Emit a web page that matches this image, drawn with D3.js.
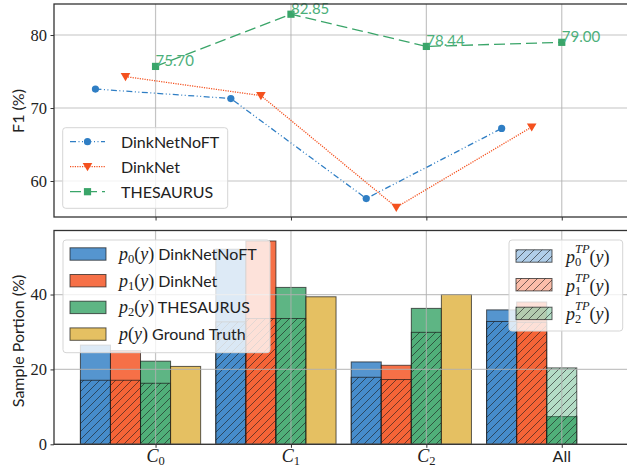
<!DOCTYPE html>
<html>
<head>
<meta charset="utf-8">
<script src="https://cdn.jsdelivr.net/npm/d3@7"></script>
<style>
    body { margin: 0; background: #fff; }
    svg { display: block; }
    .sans { font-family: "Lato", "Liberation Sans", sans-serif; }
    .serif { font-family: "Liberation Serif", "DejaVu Serif", serif; }
</style>
</head>
<body>
<script>
const categories = ["C0", "C1", "C2", "All"];

// F1 (%) per category, top panel
const f1NoFT = [72.6, 71.3, 57.6, 67.2];
const f1DinkNet = [74.3, 71.7, 56.4, 67.4];
const f1Thesaurus = [75.70, 82.85, 78.44, 79.00];

// Sample portion (%), bottom panel
const pNoFT = [26.5, 52.1, 22.0, 35.9];
const pDinkNet = [25.0, 54.3, 21.1, 38.0];
const pThesaurus = [22.2, 41.9, 36.3, 7.4];
const pTruth = [20.8, 39.4, 40.0];
const tpNoFT = [17.1, 32.7, 17.9, 32.8];
const tpDinkNet = [17.1, 33.6, 17.3, 32.6];
const tpThesaurus = [16.3, 33.6, 29.9, 20.4];

const topTicks = [60, 70, 80];
const bottomTicks = [0, 20, 40];

const blue = "#2f7ec4", orange = "#f4511e", green = "#3aa569", yellow = "#dfb23f";

const W = 627, H = 468;
const left = 54, right = 643;
const topPanel = { top: 4, bottom: 217 };
const botPanel = { top: 230.5, bottom: 444.3 };
const barW = 0.222;

const svg = d3.select("body").append("svg")
    .attr("width", W)
    .attr("height", H);

// hatch pattern
const defs = svg.append("defs");
defs.append("pattern")
    .attr("id", "hatch")
    .attr("patternUnits", "userSpaceOnUse")
    .attr("width", 8).attr("height", 8)
    .append("path")
    .attr("d", "M-2,2 l4,-4 M0,8 l8,-8 M6,10 l4,-4")
    .attr("stroke", "#1a1a1a")
    .attr("stroke-opacity", 0.75)
    .attr("stroke-width", 0.8);

// ----- Scales -----
const x = d3.scaleLinear().domain([-0.75, 3.6]).range([left, right]);
const yTop = d3.scaleLinear().domain([55.07, 84.25]).range([topPanel.bottom, topPanel.top]);
const yBot = d3.scaleLinear().domain([0, 57.1]).range([botPanel.bottom, botPanel.top]);
const idx = [0, 1, 2, 3];

function frame(g, panel) {
    g.append("rect")
        .attr("x", left).attr("y", panel.top)
        .attr("width", right - left).attr("height", panel.bottom - panel.top)
        .attr("fill", "none")
        .attr("stroke", "#333")
        .attr("stroke-width", 1.3);
}

function grid(g, y, ticks, panel) {
    const gg = g.append("g").attr("class", "grid");
    gg.selectAll("line.h").data(ticks).enter().append("line")
        .attr("x1", left).attr("x2", right)
        .attr("y1", d => y(d)).attr("y2", d => y(d));
    gg.selectAll("line.v").data(idx).enter().append("line")
        .attr("x1", d => x(d)).attr("x2", d => x(d))
        .attr("y1", panel.top).attr("y2", panel.bottom);
    gg.selectAll("line")
        .attr("stroke", "#b0b0b0")
        .attr("stroke-opacity", 0.75)
        .attr("stroke-width", 1.2);
}

function axes(g, y, ticks, panel) {
    const ax = g.append("g")
        .attr("transform", `translate(${left},0)`)
        .call(d3.axisLeft(y).tickValues(ticks).tickSize(3.5).tickPadding(3.5));
    ax.select(".domain").remove();
    ax.selectAll("text").attr("class", "serif").style("font-size", "16.5px").attr("fill", "#222");
    ax.selectAll("line").attr("stroke", "#333");
    const bx = g.append("g")
        .attr("transform", `translate(0,${panel.bottom})`)
        .call(d3.axisBottom(x).tickValues(idx).tickSize(3.5).tickFormat(""));
    bx.select(".domain").remove();
    bx.selectAll("line").attr("stroke", "#333");
}

// ----- Top panel: F1 lines -----
const topG = svg.append("g");
grid(topG, yTop, topTicks, topPanel);

const series = [
    { name: "DinkNetNoFT", vals: f1NoFT, color: blue, off: -2, dash: "6,2.5,1,2.5,1,2.5", marker: "circle" },
    { name: "DinkNet", vals: f1DinkNet, color: orange, off: -1, dash: "1.2,1.2", marker: "tri" },
    { name: "THESAURUS", vals: f1Thesaurus, color: green, off: 0, dash: "11,5", marker: "square" }
];

function marker(g, type, cx, cy, color) {
    if (type === "circle") {
        g.append("circle").attr("cx", cx).attr("cy", cy).attr("r", 3.6).attr("fill", color);
    } else if (type === "tri") {
        g.append("path").attr("d", `M${cx - 4.8},${cy - 3.6} L${cx + 4.8},${cy - 3.6} L${cx},${cy + 4.6} Z`).attr("fill", color);
    } else {
        g.append("rect").attr("x", cx - 3.6).attr("y", cy - 3.6).attr("width", 7.2).attr("height", 7.2).attr("fill", color);
    }
}

series.forEach(s => {
    const line = d3.line()
        .x((d, i) => x(i + s.off * barW))
        .y(d => yTop(d));
    topG.append("path")
        .datum(s.vals)
        .attr("d", line)
        .attr("fill", "none")
        .attr("stroke", s.color)
        .attr("stroke-width", 1.3)
        .attr("stroke-dasharray", s.dash);
    s.vals.forEach((v, i) => marker(topG, s.marker, x(i + s.off * barW), yTop(v), s.color));
});

// value labels for THESAURUS
topG.selectAll("text.val")
    .data(f1Thesaurus)
    .enter().append("text")
    .attr("class", "sans val")
    .attr("x", (d, i) => x(i))
    .attr("y", d => yTop(d))
    .attr("fill", "#4caf7a")
    .style("font-size", "15px")
    .text(d => d.toFixed(2));

axes(topG, yTop, topTicks, topPanel);
frame(topG, topPanel);

topG.append("text")
    .attr("class", "sans")
    .attr("transform", `translate(24,111) rotate(-90)`)
    .attr("text-anchor", "middle")
    .style("font-size", "16px")
    .attr("fill", "#222")
    .text("F1 (%)");

// legend
const leg1 = topG.append("g");
leg1.append("rect")
    .attr("x", 62.7).attr("y", 127.7).attr("width", 165).attr("height", 80.6).attr("rx", 3)
    .attr("fill", "#fff").attr("fill-opacity", 0.8)
    .attr("stroke", "#d5d5d5");
series.forEach((s, i) => {
    const cy = 141.7 + i * 25;
    leg1.append("line")
        .attr("x1", 70).attr("x2", 105).attr("y1", cy).attr("y2", cy)
        .attr("stroke", s.color).attr("stroke-width", 1.3).attr("stroke-dasharray", s.dash);
    marker(leg1, s.marker, 87.5, cy, s.color);
    leg1.append("text")
        .attr("class", "sans")
        .attr("x", 121).attr("y", cy + 6)
        .style("font-size", "16px")
        .attr("fill", "#222")
        .text(s.name);
});

// ----- Bottom panel: sample portion bars -----
const botG = svg.append("g");

const groups = [
    { p: pNoFT, tp: tpNoFT, color: blue, off: -2 },
    { p: pDinkNet, tp: tpDinkNet, color: orange, off: -1 },
    { p: pThesaurus, tp: tpThesaurus, color: green, off: 0 },
    { p: pTruth, tp: null, color: yellow, off: 1 }
];
const bw = x(barW) - x(0);

groups.forEach(gp => {
    const bars = botG.append("g");
    gp.p.forEach((v, i) => {
        const bx = x(i + gp.off * barW) - bw / 2;
        bars.append("rect")
            .attr("x", bx).attr("y", yBot(v))
            .attr("width", bw).attr("height", yBot(0) - yBot(v))
            .attr("fill", gp.color).attr("fill-opacity", 0.82)
            .attr("stroke", "#1a1a1a").attr("stroke-opacity", 0.7).attr("stroke-width", 1);
        if (gp.tp) {
            const t = gp.tp[i];
            bars.append("rect")
                .attr("x", bx).attr("y", yBot(t))
                .attr("width", bw).attr("height", yBot(0) - yBot(t))
                .attr("fill", gp.color).attr("fill-opacity", 0.38);
            bars.append("rect")
                .attr("x", bx).attr("y", yBot(t))
                .attr("width", bw).attr("height", yBot(0) - yBot(t))
                .attr("fill", "url(#hatch)")
                .attr("stroke", "#1a1a1a").attr("stroke-opacity", 0.7).attr("stroke-width", 1);
        }
    });
});

grid(botG, yBot, bottomTicks, botPanel);
axes(botG, yBot, bottomTicks, botPanel);
frame(botG, botPanel);

// x tick labels
botG.selectAll("text.xl")
    .data(categories)
    .enter().append("text")
    .attr("class", "xl")
    .attr("x", (d, i) => x(i))
    .attr("y", 462)
    .attr("text-anchor", "middle")
    .attr("fill", "#222")
    .each(function (d) {
        const t = d3.select(this);
        if (d === "All") {
            t.attr("class", "sans").style("font-size", "16px").text(d);
        } else {
            t.attr("class", "serif").style("font-size", "18px");
            t.append("tspan").style("font-style", "italic").text("C");
            t.append("tspan").attr("dy", 2.5).style("font-size", "12.5px").text(d.slice(1));
        }
    });

botG.append("text")
    .attr("class", "sans")
    .attr("transform", `translate(24,341) rotate(-90)`)
    .attr("text-anchor", "middle")
    .style("font-size", "16px")
    .attr("fill", "#222")
    .text("Sample Portion (%)");

// math label helper: p_sub^sup(y)
function pLabel(t, sub, sup) {
    t.append("tspan").attr("class", "serif").style("font-style", "italic").text("p");
    let shift = 0;
    if (sub !== null) {
        t.append("tspan").attr("class", "serif").attr("dy", 3).style("font-size", "12.5px").text(sub);
        shift = 3;
    }
    if (sup) {
        t.append("tspan").attr("class", "serif").attr("dx", -6.3).attr("dy", -13)
            .style("font-size", "12.5px").style("font-style", "italic").text(sup);
        shift = -10;
    }
    t.append("tspan").attr("class", "serif").attr("dy", -shift).text("(");
    t.append("tspan").attr("class", "serif").style("font-style", "italic").text("y");
    t.append("tspan").attr("class", "serif").text(")");
}

// left legend
const legP = [
    { sub: "0", name: "DinkNetNoFT", color: blue },
    { sub: "1", name: "DinkNet", color: orange },
    { sub: "2", name: "THESAURUS", color: green },
    { sub: null, name: "Ground Truth", color: yellow }
];
const leg2 = botG.append("g");
leg2.append("rect")
    .attr("x", 63).attr("y", 240).attr("width", 207).attr("height", 112.7).attr("rx", 3)
    .attr("fill", "#fff").attr("fill-opacity", 0.8)
    .attr("stroke", "#d5d5d5");
legP.forEach((e, i) => {
    const cy = 254 + i * 26.7;
    leg2.append("rect")
        .attr("x", 70).attr("y", cy - 6.2).attr("width", 36).attr("height", 12.4)
        .attr("fill", e.color).attr("fill-opacity", 0.82)
        .attr("stroke", "#1a1a1a").attr("stroke-opacity", 0.7);
    const t = leg2.append("text")
        .attr("x", 119).attr("y", cy + 6)
        .style("font-size", "18px")
        .attr("fill", "#222");
    pLabel(t, e.sub, null);
    t.append("tspan").attr("class", "sans").style("font-size", "16px").text(" " + e.name);
});

// right legend
const legTP = [
    { sub: "0", color: blue },
    { sub: "1", color: orange },
    { sub: "2", color: green }
];
const leg3 = botG.append("g");
leg3.append("rect")
    .attr("x", 509).attr("y", 240).attr("width", 113.7).attr("height", 91).attr("rx", 3)
    .attr("fill", "#fff").attr("fill-opacity", 0.8)
    .attr("stroke", "#d5d5d5");
legTP.forEach((e, i) => {
    const cy = 256 + i * 28.7;
    leg3.append("rect")
        .attr("x", 516).attr("y", cy - 6.2).attr("width", 36).attr("height", 12.4)
        .attr("fill", e.color).attr("fill-opacity", 0.38);
    leg3.append("rect")
        .attr("x", 516).attr("y", cy - 6.2).attr("width", 36).attr("height", 12.4)
        .attr("fill", "url(#hatch)")
        .attr("stroke", "#1a1a1a").attr("stroke-opacity", 0.7);
    const t = leg3.append("text")
        .attr("x", 566).attr("y", cy + 7)
        .style("font-size", "18px")
        .attr("fill", "#222");
    pLabel(t, e.sub, "TP");
});
</script>
</body>
</html>
